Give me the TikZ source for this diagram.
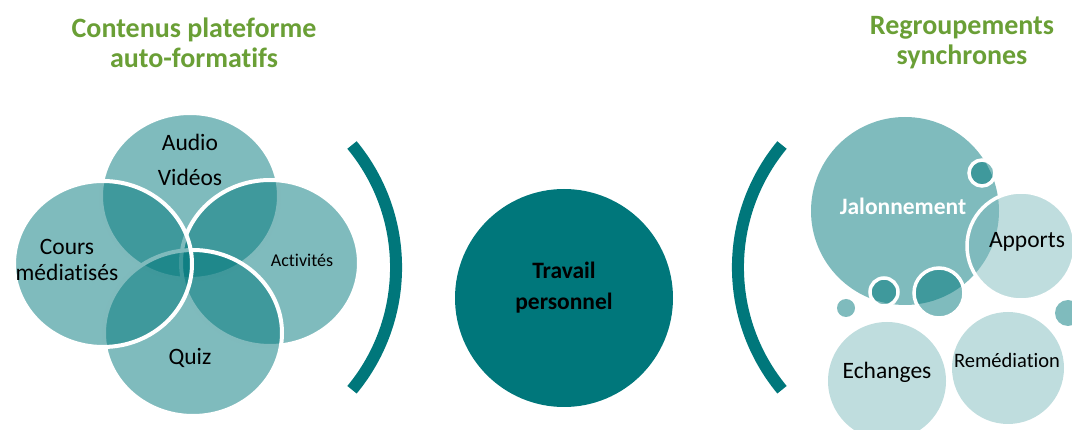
\documentclass[tikz,border=0pt]{standalone}
\usepackage{fontspec}
\setmainfont[Ligatures=NoCommon]{Carlito}
\usetikzlibrary{shapes.geometric}
\definecolor{petrol}{HTML}{00777B}
\definecolor{paleteal}{HTML}{80BBBD}
\definecolor{titlegreen}{HTML}{6A9F36}
\tikzset{
  petal/.style={ellipse, inner sep=0pt, minimum width=178pt, minimum height=166pt,
    fill=petrol, fill opacity=0.5, draw=white, line width=4pt},
  bubble/.style={circle, inner sep=0pt, fill=petrol, fill opacity=0.5, draw=white, line width=3.5pt},
  palebubble/.style={circle, inner sep=0pt, fill=paleteal, fill opacity=0.5, draw=white, line width=3.5pt},
  bracket/.style={draw=petrol, line width=12pt},
  heading/.style={font=\fontsize{28}{30}\selectfont\bfseries, text=titlegreen, align=center},
  lbl/.style={font=\fontsize{23.5}{26}\selectfont, align=center},
}
\begin{document}
\begin{tikzpicture}[x=1pt,y=-1pt]
\useasboundingbox (0,0) rectangle (1072,430);
\node [heading] (lefttitle) at (194,43) {Contenus plateforme\\auto-formatifs};
\node [heading] (righttitle) at (962,43) {Regroupements\\synchrones};
\node [petal] (media) at (190,196) {};
\node [petal] (tasks) at (270,263) {};
\node [petal] (quiz) at (193,333) {};
\node [petal] (course) at (103,264) {};
\node [lbl] (audio) at (190,142) {Audio};
\node [lbl] (video) at (190,177) {Vidéos};
\node [lbl] (coursetext) at (67,260) {Cours\\médiatisés};
\node [lbl, font=\fontsize{18}{20}\selectfont] (taskstext) at (302,260) {Activités};
\node [lbl] (quiztext) at (190,358) {Quiz};
\draw [bracket] (352,145) arc [start angle=-39.6, end angle=39.6, radius=192];
\node [circle, inner sep=0pt, minimum size=218pt, fill=petrol] (work) at (564,298) {};
\node [lbl, font=\fontsize{23.5}{31}\selectfont\bfseries] (worktext) at (564,288) {Travail\\personnel};
\draw [bracket] (782,145) arc [start angle=219.6, end angle=140.4, radius=192];
\node [bubble, minimum size=188pt, draw=none] (milestone) at (905,211) {};
\node [bubble, minimum size=26pt] (dotone) at (982,173) {};
\node [palebubble, minimum size=108pt] (input) at (1021,246) {};
\node [bubble, minimum size=28pt] (dottwo) at (884,292) {};
\node [bubble, minimum size=50pt] (dotthree) at (939,293) {};
\node [bubble, minimum size=18pt, draw=none] (dotfour) at (846,308) {};
\node [bubble, minimum size=26pt, draw=none] (dotfive) at (1068,313) {};
\node [palebubble, minimum size=118pt, draw=none] (talk) at (887,381) {};
\node [palebubble, minimum size=112pt, draw=none] (remedy) at (1008,368) {};
\node [lbl, font=\fontsize{23.5}{26}\selectfont\bfseries, text=white] (milestonetext) at (903,206) {Jalonnement};
\node [lbl] (inputtext) at (1027,242) {Apports};
\node [lbl] (talktext) at (887,372) {Echanges};
\node [lbl, font=\fontsize{20.5}{22}\selectfont] (remedytext) at (1007,360) {Remédiation};
\end{tikzpicture}
\end{document}
